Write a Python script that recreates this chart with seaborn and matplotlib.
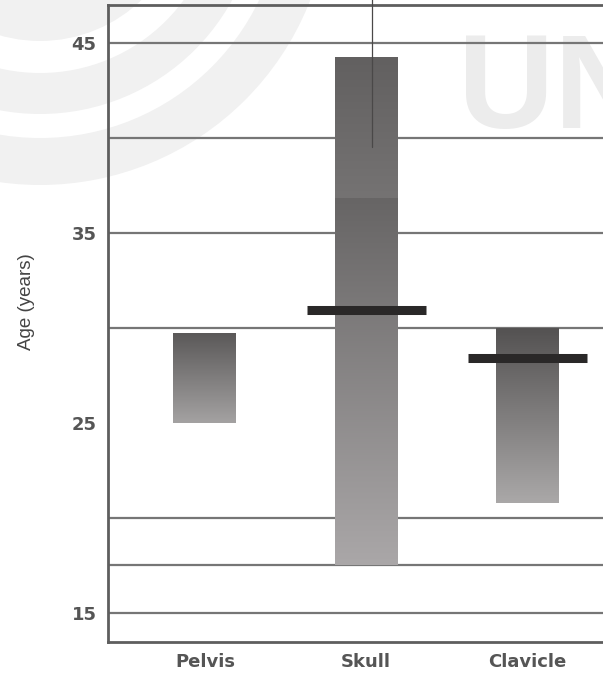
import matplotlib
matplotlib.use("Agg")

import matplotlib.pyplot as plt
import numpy as np
import pandas as pd
import seaborn as sns
from matplotlib.colors import to_rgb
from matplotlib.patches import Circle
from matplotlib.transforms import IdentityTransform


# values
BONES = ["Pelvis", "Skull", "Clavicle"]
AGE_LOW = [25.0, 17.5, 20.8]
AGE_HIGH = [29.75, 44.25, 30.0]
MEAN_AGE = [None, 30.95, 28.4]
SKULL_SPLIT = 36.8   # where the skull bar changes shade
SKULL_LINE = 39.5    # lower end of the thin line through the skull bar
Y_TICKS = [15, 25, 35, 45]
GRID_AGES = [15, 17.5, 20, 30, 35, 40, 45]

# shading of each bar, top colour -> bottom colour per segment
SHADES = {
    "Pelvis": [(None, "#5a5858", "#a4a2a2")],
    "Skull": [(SKULL_SPLIT, "#626060", "#757373"), (None, "#676565", "#aaa7a8")],
    "Clavicle": [(None, "#545252", "#aaa8a8")],
}


def gradient(top, bottom, n=200):
    t = np.linspace(0, 1, n)[:, None]
    c = (1 - t) * np.array(to_rgb(top)) + t * np.array(to_rgb(bottom))
    return c[:, None, :]


def main() -> None:
    sns.set_theme(style="white")
    plt.rcParams["font.family"] = ["Liberation Sans", "DejaVu Sans"]

    fig = plt.figure(figsize=(6.03, 6.73), dpi=100)

    # faint watermark behind the chart
    for r, col in [(290, "#f1f1f1"), (243, "white"), (219, "#f1f1f1"), (178, "white"), (146, "#f1f1f1")]:
        fig.patches.append(Circle((40, 778), r, transform=IdentityTransform(), color=col, lw=0, zorder=-5))
    fig.text(458 / 603, 1 - 128 / 673, "UN", fontsize=96, color="#ececec", fontweight="bold",
             family=["Liberation Sans Narrow", "Liberation Sans"], va="baseline", zorder=-4)

    ax = fig.add_axes([0.1786, 0.046, 0.8214, 0.9466])
    ax.set_facecolor("none")

    df = pd.DataFrame({"bone": BONES, "low": AGE_LOW, "high": AGE_HIGH})
    df["span"] = df["high"] - df["low"]
    sns.barplot(data=df, x="bone", y="span", width=0.39, color="#888888",
                errorbar=None, ax=ax, zorder=3)

    for patch, bone, low, high in zip(ax.patches, BONES, AGE_LOW, AGE_HIGH):
        patch.set_y(low)
        patch.set_facecolor("none")
        patch.set_edgecolor("none")
        x0 = patch.get_x()
        x1 = x0 + patch.get_width()
        top = high
        for end, c_top, c_bot in SHADES[bone]:
            end = low if end is None else end
            im = ax.imshow(gradient(c_top, c_bot), extent=[x0, x1, end, top],
                           aspect="auto", interpolation="bilinear", zorder=3)
            im.set_clip_path(patch)
            top = end

    for i, m in enumerate(MEAN_AGE):
        if m is not None:
            ax.hlines(m, i - 0.37, i + 0.37, color="#2a2828", lw=6.5, zorder=5)

    ax.plot([1.034, 1.034], [SKULL_LINE, 50], color="#4a4848", lw=0.9,
            clip_on=False, zorder=6)

    ax.hlines(GRID_AGES, -0.6, 2.47, color="#767676", lw=1.6, zorder=1)

    ax.set_xlim(-0.603, 2.468)
    ax.set_ylim(13.47, 47.0)
    ax.set_yticks(Y_TICKS)
    ax.set_xlabel("")
    ax.set_ylabel("Age (years)", fontsize=13.5, color="#444444", va="center")
    ax.yaxis.set_label_coords(-0.163, 0.534)
    ax.tick_params(axis="both", length=0, labelsize=13, labelcolor="#555555")
    ax.tick_params(axis="y", pad=8)
    ax.tick_params(axis="x", pad=8)
    for lab in ax.get_xticklabels() + ax.get_yticklabels():
        lab.set_family(["DejaVu Sans"])
        lab.set_fontweight("bold")

    for side in ["left", "top", "bottom"]:
        ax.spines[side].set_color("#5e5e5e")
        ax.spines[side].set_linewidth(2.0)
    ax.spines["right"].set_visible(False)

    fig.savefig("out.png", dpi=100)
    plt.close(fig)


if __name__ == "__main__":
    main()
